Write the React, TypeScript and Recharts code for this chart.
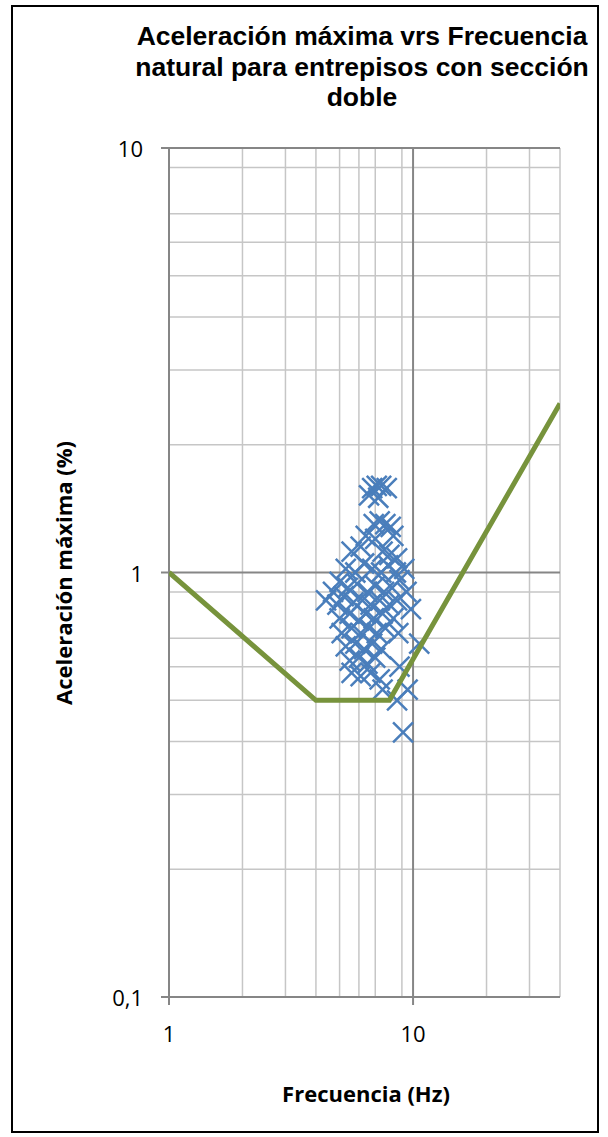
import { ScatterChart, Scatter, XAxis, YAxis, CartesianGrid, Label } from "recharts";

// Límite (curva base) - frecuencia y aceleración
const limitFreq = [1, 4, 8, 40];
const limitAccel = [1, 0.5, 0.5, 2.5];

// Entrepisos con sección doble
const floorFreq = [
  6.8, 7.1, 7.4, 7.8, 6.6, 7.2,
  6.9, 7.3, 7.7, 8.1, 6.4, 7.0, 8.3,
  5.6, 6.1, 7.5, 8.0, 8.6,
  5.3, 5.8, 6.3, 6.8, 7.4, 7.9, 8.5, 9.2,
  4.7, 5.0, 5.4, 5.9, 6.5, 7.0, 7.6, 8.2, 8.8, 9.4,
  4.4, 4.9, 5.2, 5.7, 6.2, 6.7, 7.3, 8.0, 8.6, 9.8,
  5.0, 5.5, 6.0, 6.4, 6.9, 7.5, 8.3,
  5.1, 5.6, 6.1, 6.6, 7.1, 7.7, 8.7,
  5.3, 5.8, 6.3, 6.8, 7.4, 10.6,
  5.5, 6.0, 6.5, 7.0, 8.8,
  5.6, 6.1, 6.7, 7.3, 9.5,
  7.5, 8.6, 9.1,
];
const floorAccel = [
  1.58, 1.6, 1.6, 1.58, 1.52, 1.5,
  1.3, 1.32, 1.3, 1.28, 1.22, 1.2, 1.22,
  1.12, 1.15, 1.12, 1.1, 1.08,
  1.02, 1.0, 1.05, 1.02, 1.0, 1.04, 1.0, 1.02,
  0.9, 0.95, 0.92, 0.94, 0.9, 0.93, 0.9, 0.92, 0.96, 0.9,
  0.86, 0.84, 0.88, 0.85, 0.86, 0.84, 0.86, 0.84, 0.86, 0.82,
  0.78, 0.8, 0.77, 0.8, 0.78, 0.8, 0.78,
  0.72, 0.74, 0.72, 0.74, 0.72, 0.74, 0.72,
  0.67, 0.68, 0.66, 0.68, 0.66, 0.68,
  0.62, 0.63, 0.61, 0.63, 0.6,
  0.58, 0.57, 0.58, 0.56, 0.53,
  0.53, 0.5, 0.42,
];

const xTicks = [1, 10];
const yTicks = [0.1, 1, 10];
const xMinor = [2, 3, 4, 5, 6, 7, 8, 9, 20, 30, 40];
const xMajor = [10];
const yMinor = [0.2, 0.3, 0.4, 0.5, 0.6, 0.7, 0.8, 0.9, 2, 3, 4, 5, 6, 7, 8, 9];
const yMajor = [1, 10];

const limitData = limitFreq.map((f, i) => ({ f, a: limitAccel[i] }));
const pointData = floorFreq.map((f, i) => ({ f, a: floorAccel[i] }));

const sans = "'Open Sans', Lato, sans-serif";
const fmt = (v: number) => String(v).replace(".", ",");

const XTick = (props: any) => {
  const { x, y, payload } = props;
  return (
    <text x={x} y={y + 16} textAnchor="middle" dominantBaseline="central" fontFamily={sans} fontSize={22} fill="#000">
      {fmt(payload.value)}
    </text>
  );
};

const YTick = (props: any) => {
  const { x, y, payload } = props;
  return (
    <text x={x - 1} y={y} textAnchor="end" dominantBaseline="central" fontFamily={sans} fontSize={22} fill="#000">
      {fmt(payload.value)}
    </text>
  );
};

const Cross = (props: any) => {
  const { cx, cy } = props;
  if (cx == null || cy == null) return <g />;
  const s = 10;
  return (
    <path
      d={`M${cx - s},${cy - s}L${cx + s},${cy + s}M${cx - s},${cy + s}L${cx + s},${cy - s}`}
      stroke="#4A7EBB"
      strokeWidth={2.5}
      fill="none"
    />
  );
};

export default function App() {
  return (
    <div style={{ position: "absolute", left: 0, top: 0, width: 608, height: 1137 }}>
      <div
        style={{
          position: "absolute",
          left: 11,
          top: 5,
          width: 584,
          height: 1124,
          border: "2px solid #000",
        }}
      />
      <div
        style={{
          position: "absolute",
          left: 110,
          top: 21,
          width: 504,
          textAlign: "center",
          fontFamily: "'Liberation Sans', Arial, sans-serif",
          fontWeight: "bold",
          fontSize: 26.5,
          lineHeight: "30.5px",
          color: "#000",
        }}
      >
        Aceleración máxima vrs Frecuencia
        <br />
        natural para entrepisos con sección
        <br />
        doble
      </div>
      <div style={{ position: "absolute", left: 0, top: 0 }}>
        <ScatterChart width={608} height={1137} margin={{ top: 148, right: 48, bottom: 0, left: 0 }}>
          <CartesianGrid stroke="#c6c6c6" strokeWidth={1.5} horizontalValues={yMinor} verticalValues={xMinor} />
          <CartesianGrid stroke="#868686" strokeWidth={2} horizontalValues={yMajor} verticalValues={xMajor} />
          <XAxis
            type="number"
            dataKey="f"
            scale="log"
            domain={[1, 40]}
            allowDataOverflow
            ticks={xTicks}
            height={140}
            tick={<XTick />}
            tickSize={8}
            tickMargin={12}
            stroke="#868686"
            strokeWidth={2}
          >
            <Label
              content={() => (
                <text x={366} y={1102} textAnchor="middle" fontFamily={sans} fontWeight="bold" fontSize={22}>
                  Frecuencia (Hz)
                </text>
              )}
            />
          </XAxis>
          <YAxis
            type="number"
            dataKey="a"
            scale="log"
            domain={[0.1, 10]}
            allowDataOverflow
            ticks={yTicks}
            width={169}
            tick={<YTick />}
            tickSize={8}
            tickMargin={17}
            stroke="#868686"
            strokeWidth={2}
          >
            <Label
              content={() => (
                <text
                  x={72}
                  y={573}
                  textAnchor="middle"
                  transform="rotate(-90 72 573)"
                  fontFamily={sans}
                  fontWeight="bold"
                  fontSize={22}
                >
                  Aceleración máxima (%)
                </text>
              )}
            />
          </YAxis>
          <Scatter data={pointData} shape={<Cross />} isAnimationActive={false} />
          <Scatter
            data={limitData}
            line={{ stroke: "#77933C", strokeWidth: 5 }}
            shape={() => <g />}
            isAnimationActive={false}
          />
        </ScatterChart>
      </div>
    </div>
  );
}
